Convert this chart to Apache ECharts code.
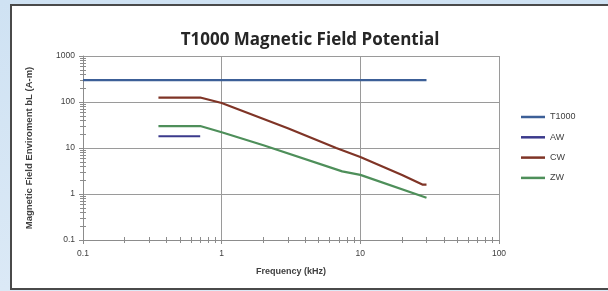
<!DOCTYPE html>
<html><head><meta charset="utf-8">
<script src="https://cdn.jsdelivr.net/npm/echarts@6/dist/echarts.min.js"></script>
<style>
html,body{margin:0;padding:0;width:608px;height:291px;overflow:hidden;
background:linear-gradient(180deg,#cfe2f3 0%,#dbe9f6 100%);}
#c{width:608px;height:291px;}
</style></head><body><div id="c"></div>
<script>
const titleText = 'T1000 Magnetic Field Potential';
const xName = 'Frequency (kHz)';
const yName = 'Magnetic Field Enviroment bL (A-m)';
const seriesNames = ['T1000', 'AW', 'CW', 'ZW'];
const T1000 = [[0.1, 300], [30, 300]];
const AW = [[0.35, 18], [0.7, 18]];
const CW = [[0.35, 125], [0.7, 125], [1, 95], [3, 27], [6.7, 10], [10, 6.4], [20, 2.6], [28, 1.6], [30, 1.6]];
const ZW = [[0.35, 30], [0.7, 30], [1, 22], [2, 11.5], [7.4, 3.1], [10, 2.6], [30, 0.83]];
const xMinorTicks = [0.2,0.3,0.4,0.5,0.6,0.7,0.8,0.9,2,3,4,5,6,7,8,9,20,30,40,50,60,70,80,90];
const yMinorTicks = [0.2,0.3,0.4,0.5,0.6,0.7,0.8,0.9,2,3,4,5,6,7,8,9,20,30,40,50,60,70,80,90,200,300,400,500,600,700,800,900];
const colors = ['#3c5f97', '#3b3a8c', '#7f3426', '#4e8f5a'];

const chart = echarts.init(document.getElementById('c'), null, {renderer: 'canvas'});
const font = 'Liberation Sans, Arial, sans-serif';
const fmt = v => String(v);
chart.setOption({
  animation: false,
  textStyle: {fontFamily: font},
  graphic: [{
    type: 'rect', z: -10, silent: true,
    shape: {x: 11, y: 5, width: 700, height: 284},
    style: {fill: '#ffffff', stroke: '#4a4a4a', lineWidth: 2}
  }],
  title: {
    text: titleText, left: 305, top: 27, textAlign: 'center',
    textStyle: {fontFamily: 'Open Sans, sans-serif', fontSize: 17, fontWeight: 'bold', color: '#262626'}
  },
  legend: {
    orient: 'vertical', left: 521, top: 112, itemGap: 10.3, padding: 0,
    itemWidth: 24, itemHeight: 2.5, icon: 'rect',
    data: seriesNames,
    textStyle: {fontSize: 9, color: '#404040', lineHeight: 10}
  },
  grid: {left: 83, right: 109, top: 56, bottom: 51},
  xAxis: [{
    type: 'log', logBase: 10, min: 0.1, max: 100,
    name: xName, nameLocation: 'middle', nameGap: 27,
    nameTextStyle: {fontSize: 9, fontWeight: 'bold', color: '#404040'},
    axisLine: {show: true, onZero: false, lineStyle: {color: '#8c8c8c'}},
    axisTick: {show: true, length: 4, lineStyle: {color: '#8c8c8c'}},
    axisLabel: {fontSize: 8.5, color: '#404040', margin: 9, formatter: fmt},
    splitLine: {show: true, lineStyle: {color: '#9a9a9a', width: 1}}
  }, {
    type: 'log', logBase: 10, min: 0.1, max: 100, position: 'bottom', offset: -3,
    axisLine: {show: false},
    axisTick: {show: true, length: 6, customValues: xMinorTicks, lineStyle: {color: '#8c8c8c'}},
    axisLabel: {show: false},
    splitLine: {show: false}
  }],
  yAxis: [{
    type: 'log', logBase: 10, min: 0.1, max: 1000,
    name: yName, nameLocation: 'middle', nameGap: 49,
    nameTextStyle: {fontSize: 9.5, fontWeight: 'bold', color: '#404040'},
    axisLine: {show: true, onZero: false, lineStyle: {color: '#8c8c8c'}},
    axisTick: {show: true, length: 4, lineStyle: {color: '#8c8c8c'}},
    axisLabel: {fontSize: 8.5, color: '#404040', margin: 8, formatter: fmt},
    splitLine: {show: true, lineStyle: {color: '#9a9a9a', width: 1}}
  }, {
    type: 'log', logBase: 10, min: 0.1, max: 1000, position: 'left', offset: -3,
    axisLine: {show: false},
    axisTick: {show: true, length: 6, customValues: yMinorTicks, lineStyle: {color: '#8c8c8c'}},
    axisLabel: {show: false},
    splitLine: {show: false}
  }],
  series: seriesNames.map((n, i) => ({
    name: n, type: 'line', data: data_(i), symbol: 'none',
    xAxisIndex: 0, yAxisIndex: 0,
    lineStyle: {color: colors[i], width: 2.2},
    itemStyle: {color: colors[i]}
  }))
});
function data_(i) { return [T1000, AW, CW, ZW][i]; }
</script></body></html>
